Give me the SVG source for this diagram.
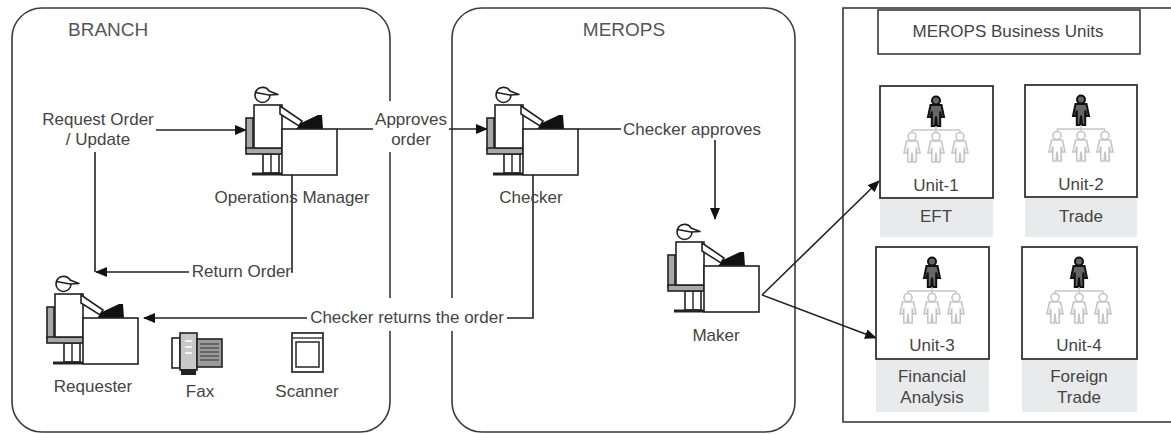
<svg xmlns="http://www.w3.org/2000/svg" xmlns:xlink="http://www.w3.org/1999/xlink" width="1171" height="434" viewBox="0 0 1171 434">
  <style>
    .panel { fill: none; stroke: #3a3a3a; stroke-width: 1.6; }
    .title { font-family: "Liberation Sans", Arial, sans-serif; font-size: 19px; fill: #555; }
    .lbl { font-family: "Liberation Sans", Arial, sans-serif; font-size: 17px; fill: #444; }
    .conn { fill: none; stroke: #222; stroke-width: 1.6; }
    .mask { fill: #fff; stroke: none; }
    .ln { fill: #fff; stroke: #222; stroke-width: 1.6; }
    .gray { fill: #a8a8a8; stroke: #222; stroke-width: 1.6; }
    .unit { fill: #fff; stroke: #333; stroke-width: 1.8; }
    .tag { fill: #e9eaeb; stroke: none; }
    .boss { fill: #666; stroke: #111; stroke-width: 2; }
    .staff { fill: #fff; stroke: #c6c6c6; stroke-width: 1.6; }
    .tree { fill: none; stroke: #c6c6c6; stroke-width: 1.4; }
  </style>
  <defs>
    <marker id="arrow" markerUnits="userSpaceOnUse" markerWidth="12" markerHeight="10" refX="11" refY="5" orient="auto">
      <path d="M0,0 L12,5 L0,10 Z" fill="#111"/>
    </marker>
    <!-- seated worker at a desk; origin = top-left corner of the desk -->
    <g id="worker">
      <rect class="gray" x="-36" y="-11" width="7" height="32"/>
      <rect class="ln" x="-19" y="25" width="16" height="19"/>
      <line x1="-11" y1="25" x2="-11" y2="44" stroke="#222" stroke-width="1.4"/>
      <rect class="gray" x="-36" y="19" width="36" height="6"/>
      <rect class="ln" x="-28" y="-24" width="28" height="43"/>
      <path class="ln" d="M-2,-23 L20,-8 L17,-3 L-2,-15 Z"/>
      <circle class="ln" cx="-19.5" cy="-34" r="7.5"/>
      <path d="M-26.5,-36.5 A7.5,7.5 0 0 1 -13,-38 L-4,-34.5 L-13,-34 Z" fill="#fff" stroke="#222" stroke-width="1.6" stroke-linejoin="round"/>
      <path d="M14,0 L19,-6 L36,-14 L40,-14 L41,0 Z" fill="#111"/>
      <rect class="ln" x="0" y="0" width="55" height="46"/>
      <line x1="-30" y1="45" x2="0" y2="45" stroke="#222" stroke-width="3"/>
    </g>
    <!-- org-chart figure, origin = top centre -->
    <path id="figure" d="M-5.5,9 H5.5 L8,21 L5.2,21 L4.2,15.5 L4.2,30 H0.9 L0,20.5 L-0.9,30 H-4.2 L-4.2,15.5 L-5.2,21 L-8,21 Z M-4,4.5 A4,4 0 1 1 4,4.5 A4,4 0 1 1 -4,4.5 Z"/>
    <g id="org">
      <use xlink:href="#figure" class="boss" x="0" y="0"/>
      <path class="tree" d="M0,30 V34 M-24,34 H24 M-24,34 V37 M0,34 V37 M24,34 V37"/>
      <use xlink:href="#figure" class="staff" x="-24" y="36"/>
      <use xlink:href="#figure" class="staff" x="0" y="36"/>
      <use xlink:href="#figure" class="staff" x="24" y="36"/>
    </g>
  </defs>

  <rect width="1171" height="434" fill="#fff"/>

  <!-- swimlane panels -->
  <g id="branch-panel">
    <rect class="panel" x="12" y="8" width="378" height="424" rx="30"/>
    <text class="title" x="68" y="36">BRANCH</text>
  </g>
  <g id="merops-panel">
    <rect class="panel" x="452" y="8" width="343" height="424" rx="30"/>
    <text class="title" x="624" y="36" text-anchor="middle">MEROPS</text>
  </g>
  <g id="units-panel">
    <rect class="panel" x="843" y="8" width="340" height="414"/>
    <rect class="panel" x="878" y="10" width="262" height="44"/>
    <text class="lbl" x="1008" y="37" text-anchor="middle">MEROPS Business Units</text>
  </g>

  <!-- connectors -->
  <g id="connectors">
    <path class="conn" d="M155,130 H246" marker-end="url(#arrow)"/>
    <path class="conn" d="M337,129 H487" marker-end="url(#arrow)"/>
    <path class="conn" d="M578,129 H715 V219" marker-end="url(#arrow)"/>
    <path class="conn" d="M95,152 V272"/>
    <path class="conn" d="M292,175 V272 H96" marker-end="url(#arrow)"/>
    <path class="conn" d="M533,175 V318 H144" marker-end="url(#arrow)"/>
    <path class="conn" d="M762,295 L879,181" marker-end="url(#arrow)"/>
    <path class="conn" d="M762,295 L876,338" marker-end="url(#arrow)"/>
  </g>

  <!-- connector labels -->
  <g id="labels">
    <rect class="mask" x="36" y="106" width="120" height="44"/>
    <text class="lbl" x="98" y="125" text-anchor="middle">Request Order</text>
    <text class="lbl" x="98" y="145" text-anchor="middle">/ Update</text>

    <rect class="mask" x="373" y="101" width="76" height="51"/>
    <text class="lbl" x="411" y="125" text-anchor="middle">Approves</text>
    <text class="lbl" x="411" y="145" text-anchor="middle">order</text>

    <rect class="mask" x="621" y="118" width="144" height="22"/>
    <text class="lbl" x="692" y="135" text-anchor="middle">Checker approves</text>

    <rect class="mask" x="189" y="263" width="102" height="20"/>
    <text class="lbl" x="291" y="277" text-anchor="end">Return Order</text>

    <rect class="mask" x="307" y="298" width="200" height="33"/>
    <text class="lbl" x="407" y="323" text-anchor="middle">Checker returns the order</text>
  </g>

  <!-- people -->
  <g id="operations-manager">
    <use xlink:href="#worker" x="282" y="129"/>
    <text class="lbl" x="292" y="203" text-anchor="middle">Operations Manager</text>
  </g>
  <g id="checker">
    <use xlink:href="#worker" x="523" y="129"/>
    <text class="lbl" x="531" y="203" text-anchor="middle">Checker</text>
  </g>
  <g id="maker">
    <use xlink:href="#worker" x="704" y="266"/>
    <text class="lbl" x="716" y="341" text-anchor="middle">Maker</text>
  </g>
  <g id="requester">
    <use xlink:href="#worker" x="83" y="318"/>
    <text class="lbl" x="93" y="392" text-anchor="middle">Requester</text>
  </g>

  <!-- office equipment -->
  <g id="fax">
    <rect class="ln" x="172" y="338" width="8" height="30"/>
    <rect x="180" y="333" width="17" height="37" fill="#c8c8c8" stroke="#222" stroke-width="1.6"/>
    <path d="M185,341 H192 M185,347 H192 M185,353 H192" stroke="#fff" stroke-width="1.5"/>
    <rect x="197" y="339" width="25" height="28" fill="#9a9a9a" stroke="#222" stroke-width="1.6"/>
    <path d="M200,344 H219 M200,348 H219 M200,352 H219 M200,356 H219 M200,360 H219" stroke="#333" stroke-width="1.2"/>
    <rect x="181" y="369" width="15" height="6" fill="#222"/>
    <text class="lbl" x="200" y="397" text-anchor="middle">Fax</text>
  </g>
  <g id="scanner">
    <rect x="292" y="333" width="31" height="39" fill="#fff" stroke="#333" stroke-width="1.8"/>
    <line x1="292" y1="338" x2="323" y2="338" stroke="#333" stroke-width="1.4"/>
    <rect x="296" y="342" width="23" height="25" fill="#fff" stroke="#333" stroke-width="1.6"/>
    <text class="lbl" x="307" y="397" text-anchor="middle">Scanner</text>
  </g>

  <!-- business units -->
  <g id="unit-1">
    <rect class="unit" x="880" y="86" width="113" height="112"/>
    <use xlink:href="#org" x="936" y="96"/>
    <text class="lbl" x="936" y="191" text-anchor="middle">Unit-1</text>
    <rect class="tag" x="880" y="199" width="113" height="38"/>
    <text class="lbl" x="936" y="222" text-anchor="middle">EFT</text>
  </g>
  <g id="unit-2">
    <rect class="unit" x="1025" y="85" width="112" height="112"/>
    <use xlink:href="#org" x="1081" y="95"/>
    <text class="lbl" x="1081" y="190" text-anchor="middle">Unit-2</text>
    <rect class="tag" x="1025" y="198" width="112" height="39"/>
    <text class="lbl" x="1081" y="222" text-anchor="middle">Trade</text>
  </g>
  <g id="unit-3">
    <rect class="unit" x="876" y="247" width="113" height="112"/>
    <use xlink:href="#org" x="932" y="257"/>
    <text class="lbl" x="932" y="351" text-anchor="middle">Unit-3</text>
    <rect class="tag" x="876" y="360" width="113" height="52"/>
    <text class="lbl" x="932" y="382" text-anchor="middle">Financial</text>
    <text class="lbl" x="932" y="403" text-anchor="middle">Analysis</text>
  </g>
  <g id="unit-4">
    <rect class="unit" x="1022" y="247" width="115" height="112"/>
    <use xlink:href="#org" x="1079" y="257"/>
    <text class="lbl" x="1079" y="351" text-anchor="middle">Unit-4</text>
    <rect class="tag" x="1022" y="360" width="115" height="52"/>
    <text class="lbl" x="1079" y="382" text-anchor="middle">Foreign</text>
    <text class="lbl" x="1079" y="403" text-anchor="middle">Trade</text>
  </g>
</svg>
